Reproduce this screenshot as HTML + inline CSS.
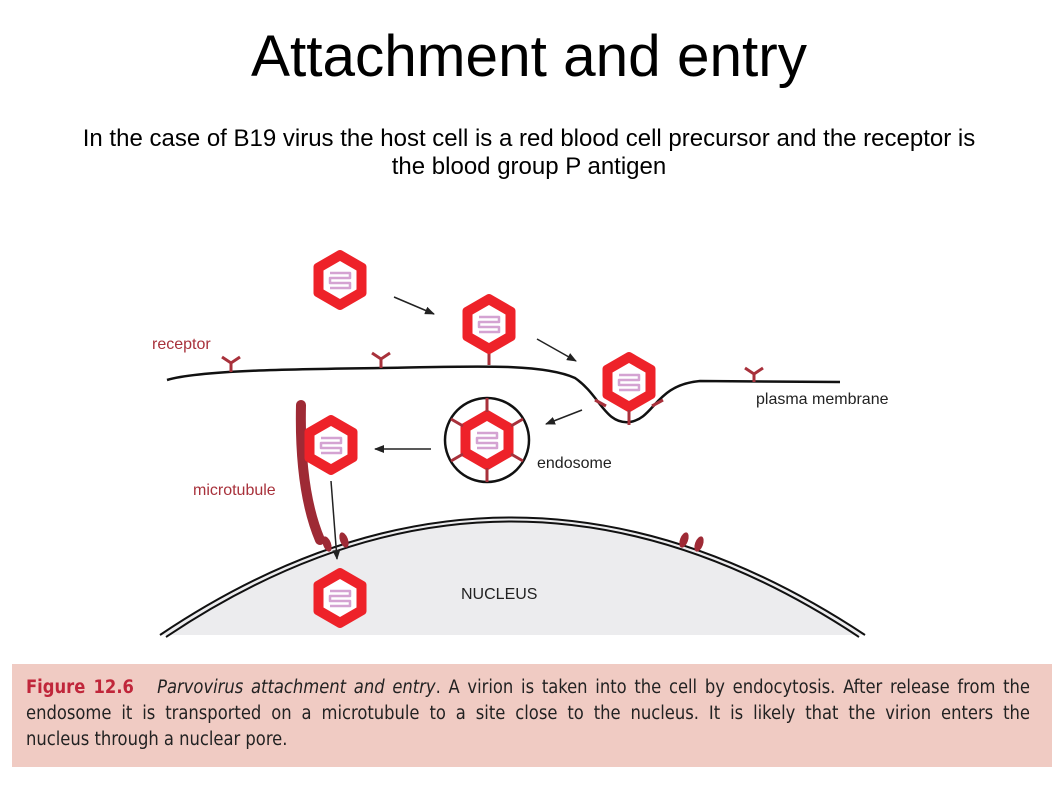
<!DOCTYPE html>
<html><head><style>
body{margin:0;width:1058px;height:794px;background:#fff;position:relative;overflow:hidden;font-family:"Liberation Sans",sans-serif}
.t{position:absolute;left:0;width:1058px;text-align:center;color:#000}
.cap{position:absolute;left:12px;top:664px;width:1040px;height:103px;box-sizing:border-box;background:#f0cbc3;padding:11px 22px 0 14px;font-family:"DejaVu Sans Condensed","DejaVu Sans",sans-serif;font-size:18.2px;line-height:26px;color:#222;white-space:nowrap}
.cap div.j{text-align:justify;text-align-last:justify}
.cap b{color:#c0263a}
</style></head><body>
<div class="t" style="top:20px;font-size:58.5px;line-height:74px">Attachment and entry</div>
<div class="t" style="top:125px;font-size:24px;line-height:28px">In the case of B19 virus the host cell is a red blood cell precursor and the receptor is<br>the blood group P antigen</div>
<svg style="position:absolute;left:0;top:0" width="1058" height="660">
<defs>
<g id="v">
<polygon points="0,-26 22.5,-13 22.5,13 0,26 -22.5,13 -22.5,-13" fill="#ee2229" stroke="#ee2229" stroke-width="8" stroke-linejoin="round"/>
<polygon points="0,-19 16.5,-9.5 16.5,9.5 0,19 -16.5,9.5 -16.5,-9.5" fill="#fff"/>
<path d="M-10,-7 H10 V-2 H-10 V3 H10 V8 H-10" fill="none" stroke="#d4a3d2" stroke-width="2.5" stroke-linejoin="round"/>
</g>
<marker id="a" markerWidth="10" markerHeight="8" refX="9" refY="4" orient="auto" markerUnits="userSpaceOnUse"><path d="M0,0 L10,4 L0,8z" fill="#222"/></marker>
</defs>
<path d="M160,635 Q510,400 865,635 L160,635z" fill="#ececee"/>
<path d="M160,635 Q510,400 865,635" fill="none" stroke="#111" stroke-width="2"/>
<path d="M166,637 Q510,406 859,637" fill="none" stroke="#111" stroke-width="2"/>
<path d="M167,380 C200,370 300,369 380,368 S540,362 575,378 C600,395 605,425 630,422 C655,418 655,385 700,381 L840,382" fill="none" stroke="#111" stroke-width="2.5"/>
<g stroke="#a8313b" stroke-width="3" fill="none">
<path d="M222,357 L231,363 L240,357 M231,363 V372"/>
<path d="M372,353 L381,359 L390,353 M381,359 V368"/>
<path d="M745,368 L754,374 L763,368 M754,374 V382"/>
<path d="M489,350 V365"/>
</g>
<path d="M301,405 C300,450 303,500 320,540" fill="none" stroke="#9e2a35" stroke-width="10" stroke-linecap="round"/>
<g fill="#9e2a35"><ellipse cx="327" cy="544" rx="4" ry="8" transform="rotate(-20 327 544)"/><ellipse cx="344" cy="540" rx="4" ry="8" transform="rotate(-20 344 540)"/><ellipse cx="684" cy="540" rx="4" ry="8" transform="rotate(20 684 540)"/><ellipse cx="699" cy="544" rx="4" ry="8" transform="rotate(20 699 544)"/></g>
<circle cx="487" cy="440" r="42" fill="#fff" stroke="#111" stroke-width="2.5"/>
<use href="#v" x="340" y="280"/>
<use href="#v" x="489" y="324"/>
<use href="#v" x="629" y="382"/>
<use href="#v" x="487" y="440"/>
<use href="#v" x="331" y="445"/>
<use href="#v" x="340" y="598"/>
<g stroke="#a8313b" stroke-width="3">
<path d="M487,398 V412 M487,468 V482 M451,419 L463,426 M523,419 L511,426 M451,461 L463,454 M523,461 L511,454"/>
<path d="M595,400 L606,406 M663,400 L652,406 M629,410 V425"/>
</g>
<g stroke="#222" stroke-width="1.5" fill="none" marker-end="url(#a)">
<line x1="394" y1="297" x2="434" y2="314"/>
<line x1="537" y1="339" x2="576" y2="361"/>
<line x1="582" y1="410" x2="546" y2="424"/>
<line x1="431" y1="449" x2="375" y2="449"/>
<line x1="331" y1="481" x2="337" y2="559"/>
</g>
<g font-family="Liberation Sans,sans-serif" font-size="16">
<text x="152" y="349" fill="#a8313b">receptor</text>
<text x="193" y="495" fill="#a8313b">microtubule</text>
<text x="756" y="404" fill="#222">plasma membrane</text>
<text x="537" y="468" fill="#222">endosome</text>
<text x="461" y="599" fill="#222">NUCLEUS</text>
</g>
</svg>
<div class="cap"><div class="j"><b>Figure 12.6</b>&nbsp;&nbsp;&nbsp;<i>Parvovirus attachment and entry</i>. A virion is taken into the cell by endocytosis. After release from the</div><div class="j">endosome it is transported on a microtubule to a site close to the nucleus. It is likely that the virion enters the</div><div>nucleus through a nuclear pore.</div></div>
</body></html>
